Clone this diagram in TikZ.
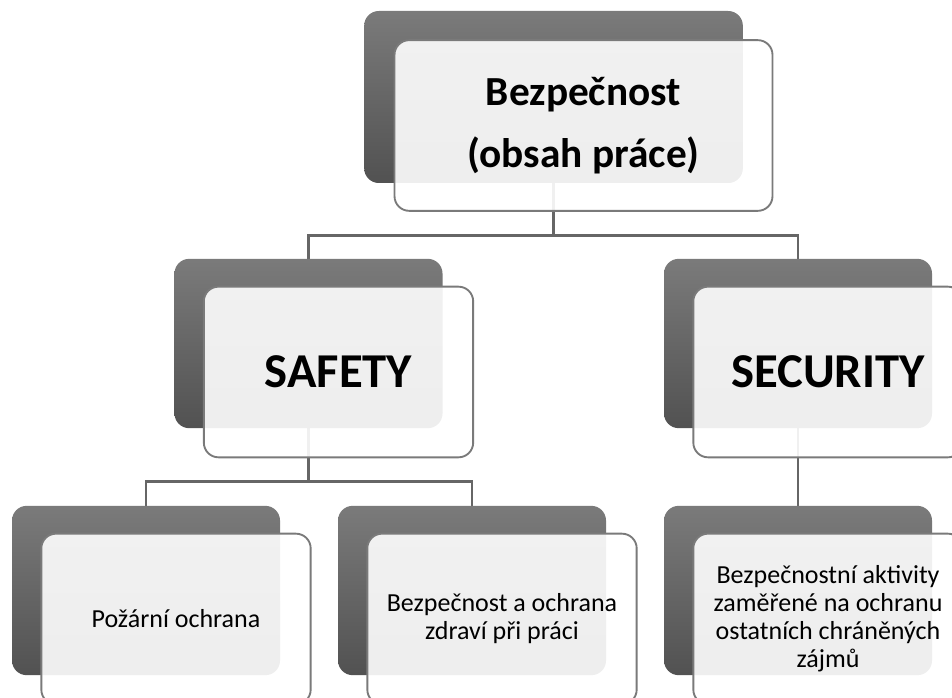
\documentclass[tikz,border=0pt]{standalone}
\usepackage{fontspec}
\setmainfont{Carlito}
\usepackage{tikz}
\usetikzlibrary{backgrounds}
\usetikzlibrary{positioning}
\tikzset{
  HKasten/.style={rounded corners=11pt, top color=black!52, bottom color=black!68,
    minimum width=201pt, minimum height=127pt, inner sep=0pt}, % dunkler Kasten hinten
  Kasten/.style={rounded corners=11pt, draw=black!52, line width=1.4pt,
    fill=white, fill opacity=0.9, text opacity=1, align=center,
    minimum width=202pt, minimum height=128pt, inner sep=0pt,
    font=\fontsize{19.5}{21}\selectfont}, % heller Kasten vorne
  Titel/.style={font=\bfseries\fontsize{36.5}{42}\selectfont}, % fette Schrift
  Linie/.style={draw=black!60, line width=2pt} % Verbindungslinien
}

\begin{document}
\begin{tikzpicture}[x=0.75pt, y=-0.75pt]
\useasboundingbox (0,0) rectangle (952,698);
\clip (0,0) rectangle (952,698);

%Kaesten hinten
\node[HKasten, minimum width=284pt, minimum height=129pt] (topback) at (553.5,97) {};
\node[HKasten] (safetyback)   at (308.5,343.5) {};
\node[HKasten] (securityback) at (798,343.5) {};
\node[HKasten] (fireback)     at (146,590.5) {};
\node[HKasten] (healthback)   at (472,590.5) {};
\node[HKasten] (otherback)    at (798,590.5) {};

%Kaesten vorne
\node[Kasten, minimum width=283.5pt, font=\bfseries\fontsize{31}{47}\selectfont]
  (top) at ([shift={(30,28.5)}]topback) {Bezpečnost\\(obsah práce)};
\node[Kasten, Titel] (safety)   at ([shift={(30,28.5)}]safetyback)   {SAFETY};
\node[Kasten, Titel] (security) at ([shift={(30,28.5)}]securityback) {SECURITY};
\node[Kasten] (fire)   at ([shift={(30,28.5)}]fireback)   {Požární ochrana};
\node[Kasten] (health) at ([shift={(30,28.5)}]healthback) {Bezpečnost a ochrana\\zdraví při práci};
\node[Kasten] (other)  at ([shift={(30,28.5)}]otherback)
  {Bezpečnostní aktivity\\zaměřené na ochranu\\ostatních chráněných\\zájmů};

%Verbindungen
\begin{scope}[on background layer]
\draw[Linie] (topback.south) -- ++(0,52) -| (safetyback.north);
\draw[Linie] (topback.south) -- ++(0,52) -| (securityback.north);
\draw[Linie] (safetyback.south) -- ++(0,53) -| (fireback.north);
\draw[Linie] (safetyback.south) -- ++(0,53) -| (healthback.north);
\draw[Linie] (securityback.south) -- (otherback.north);
\end{scope}

\end{tikzpicture}
\end{document}
